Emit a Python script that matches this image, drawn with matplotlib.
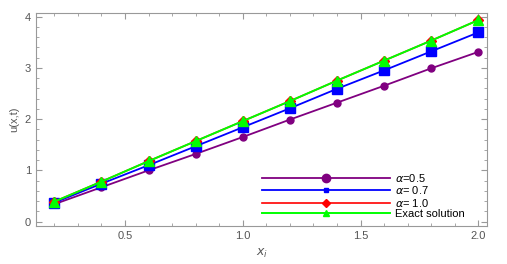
import numpy as np
import matplotlib.pyplot as plt
from matplotlib.ticker import MultipleLocator

plt.rcParams['font.family'] = ['Liberation Sans', 'DejaVu Sans']
plt.rcParams['mathtext.fontset'] = 'dejavusans'

x = [0.2, 0.4, 0.6, 0.8, 1.0, 1.2, 1.4, 1.6, 1.8, 2.0]
u_05 = [0.34, 0.67, 1.00, 1.32, 1.65, 1.99, 2.32, 2.65, 2.99, 3.31]
u_07 = [0.37, 0.74, 1.10, 1.47, 1.84, 2.21, 2.59, 2.95, 3.32, 3.69]
u_10 = [0.39, 0.78, 1.18, 1.57, 1.96, 2.35, 2.75, 3.14, 3.53, 3.93]
u_exact = [0.39, 0.78, 1.18, 1.57, 1.96, 2.35, 2.75, 3.14, 3.53, 3.93]
labels = [r'$\alpha$=0.5', r'$\alpha$= 0.7', r'$\alpha$= 1.0', 'Exact solution']

fig = plt.figure(figsize=(5.07, 2.64), dpi=100)
ax = fig.add_axes([0.071, 0.144, 0.890, 0.807])

ax.plot(x, u_05, color='#800080', lw=1.3, marker='o', ms=5, label=labels[0])
ax.plot(x, u_07, color='#0000ff', lw=1.3, marker='s', ms=6.5, label=labels[1])
ax.plot(x, u_10, color='#ff0000', lw=1.2, marker='D', ms=5.5, label=labels[2])
ax.plot(x, u_exact, color='#00ff00', lw=1.4, marker='^', ms=7.5, label=labels[3])

ax.set_xlim(0.122, 2.038)
ax.set_ylim(-0.085, 4.07)
ax.xaxis.set_major_locator(MultipleLocator(0.5))
ax.xaxis.set_minor_locator(MultipleLocator(0.1))
ax.yaxis.set_major_locator(MultipleLocator(1))
ax.yaxis.set_minor_locator(MultipleLocator(0.2))

grey = '#555555'
for s in ax.spines.values():
    s.set_color('#999999')
    s.set_linewidth(0.8)
ax.tick_params(which='both', direction='in', top=True, right=True, colors='#999999',
               labelcolor=grey, labelsize=8)
ax.tick_params(which='major', length=4)
ax.tick_params(which='minor', length=2)

ax.set_ylabel('u(x,t)', color=grey, fontsize=8, labelpad=4)
ax.set_xlabel('$x_i$', color=grey, fontsize=9, labelpad=4)

leg = ax.legend(frameon=False, fontsize=8, handlelength=11.5, handletextpad=0.5,
                labelspacing=0.03, numpoints=1, borderpad=0, borderaxespad=0,
                loc='upper left', bbox_to_anchor=(262 / 507, 1 - 172 / 264),
                bbox_transform=fig.transFigure)
for h, ms in zip(leg.legend_handles, [6, 3.5, 4, 4.5]):
    h.set_markersize(ms)

fig.savefig('out.png', dpi=100)
